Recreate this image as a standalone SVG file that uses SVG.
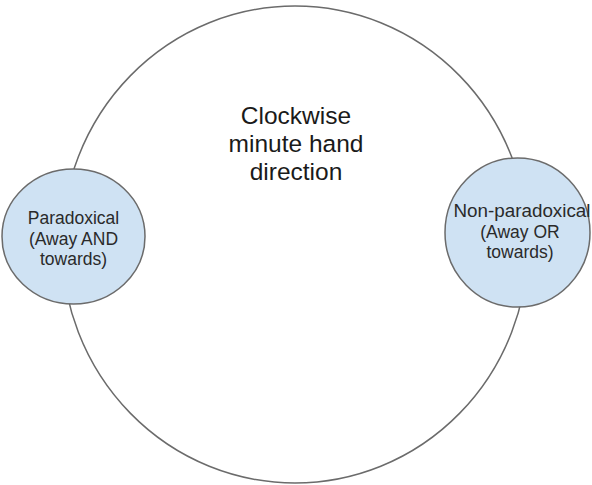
<svg xmlns="http://www.w3.org/2000/svg" width="592" height="485" viewBox="0 0 592 485">
  <style>
    .ring { fill: #ffffff; stroke: #6b6b6b; stroke-width: 1.5; }
    .node { fill: #cfe2f3; stroke: #6b6b6b; stroke-width: 1.5; }
    .big { font-family: "Liberation Sans", Arial, sans-serif; font-size: 24.5px; fill: #1a1a1a; text-anchor: middle; }
    .small { font-family: "Liberation Sans", Arial, sans-serif; font-size: 17.5px; fill: #2a2a2a; text-anchor: middle; }
  </style>
  <rect width="592" height="485" fill="#ffffff"/>

  <!-- outer cycle: clockwise direction of the minute hand -->
  <g id="cycle">
    <ellipse class="ring" cx="295" cy="244.5" rx="233" ry="238.5"/>
    <text class="big" x="296" y="124">Clockwise</text>
    <text class="big" x="296" y="152">minute hand</text>
    <text class="big" x="296" y="180">direction</text>
  </g>

  <g id="paradoxical">
    <ellipse class="node" cx="73.5" cy="236.5" rx="71.5" ry="67.5"/>
    <text class="small" x="73.5" y="224">Paradoxical</text>
    <text class="small" x="73.5" y="245">(Away AND</text>
    <text class="small" x="73.5" y="265">towards)</text>
  </g>

  <g id="non-paradoxical">
    <ellipse class="node" cx="517.5" cy="232.5" rx="72.5" ry="74.5"/>
    <text class="small" x="522" y="217" textLength="137" lengthAdjust="spacingAndGlyphs">Non-paradoxical</text>
    <text class="small" x="520" y="238">(Away OR</text>
    <text class="small" x="520" y="258">towards)</text>
  </g>
</svg>
